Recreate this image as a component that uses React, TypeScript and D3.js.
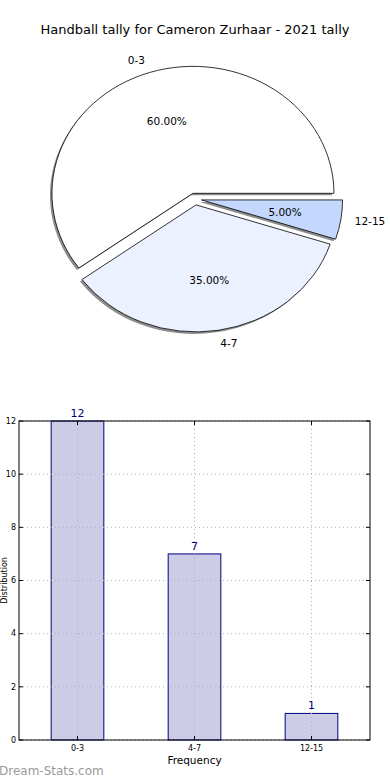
import React from 'react';
import * as d3 from 'd3';

const title = 'Handball tally for Cameron Zurhaar - 2021 tally';
const categories = ['0-3', '4-7', '12-15'];
const counts = [12, 7, 1];
const pieColors = ['#ffffff', '#ebf1fe', '#c4d8fd'];
const yTicks = [0, 2, 4, 6, 8, 10, 12];

const font = 'DejaVu Sans, sans-serif';

const PieChart: React.FC = () => {
  const cx = 195;
  const cy = 199;
  const rx = 141;
  const ry = 127;
  const explode = 0.047;

  const total = d3.sum(counts);
  const pie = d3
    .pie<number>()
    .sort(null)
    .startAngle(Math.PI / 2)
    .endAngle(Math.PI / 2 - 2 * Math.PI);
  const arcs = pie(counts);
  const arc = d3.arc<d3.PieArcDatum<number>>().innerRadius(0).outerRadius(1);

  return (
    <g>
      <text x={195} y={34} textAnchor="middle" fontSize={13} fontFamily={font}>
        {title}
      </text>
      {arcs.map((a, i) => {
        const mid = (a.startAngle + a.endAngle) / 2;
        const ox = cx + Math.sin(mid) * explode * rx;
        const oy = cy - Math.cos(mid) * explode * ry;
        // drop shadow, offset down-left
        return (
          <path
            key={'s' + i}
            d={arc(a) || ''}
            transform={`translate(${ox - 2},${oy + 2}) scale(${rx},${ry})`}
            fill="#000"
            fillOpacity={0.45}
            stroke="none"
          />
        );
      })}
      {arcs.map((a, i) => {
        const mid = (a.startAngle + a.endAngle) / 2;
        const dx = Math.sin(mid);
        const dy = -Math.cos(mid);
        const ox = cx + dx * explode * rx;
        const oy = cy + dy * explode * ry;
        const lx = ox + dx * 1.1 * rx;
        const ly = oy + dy * 1.1 * ry;
        const px = ox + dx * 0.6 * rx;
        const py = oy + dy * 0.6 * ry;
        const pct = ((counts[i] / total) * 100).toFixed(2) + '%';
        return (
          <g key={'w' + i}>
            <path
              d={arc(a) || ''}
              transform={`translate(${ox},${oy}) scale(${rx},${ry})`}
              fill={pieColors[i]}
              stroke="#000"
              strokeWidth={0.8}
              vectorEffect="non-scaling-stroke"
            />
            <text
              x={lx}
              y={ly}
              dy="0.35em"
              textAnchor={dx > 0 ? 'start' : 'end'}
              fontSize={10.5}
              fontFamily={font}
            >
              {categories[i]}
            </text>
            <text x={px} y={py} dy="0.35em" textAnchor="middle" fontSize={10.5} fontFamily={font}>
              {pct}
            </text>
          </g>
        );
      })}
    </g>
  );
};

const BarChart: React.FC = () => {
  const left = 19;
  const right = 370;
  const top = 421;
  const bottom = 740;

  const x = d3.scaleLinear().domain([-0.5, categories.length - 0.5]).range([left, right]);
  const y = d3.scaleLinear().domain([0, 12]).range([bottom, top]);
  const barW = x(0.45) - x(0);

  return (
    <g>
      {counts.map((v, i) => (
        <rect
          key={'b' + i}
          x={x(i) - barW / 2}
          y={y(v)}
          width={barW}
          height={y(0) - y(v)}
          fill="#cccce6"
          stroke="#000080"
          strokeWidth={1}
        />
      ))}
      {yTicks.map((t) => (
        <g key={'y' + t}>
          <line x1={left} x2={right} y1={y(t)} y2={y(t)} stroke="#b0b0b0" strokeDasharray="1,3" />
          <line x1={left} x2={left + 4} y1={y(t)} y2={y(t)} stroke="#000" />
          <line x1={right - 4} x2={right} y1={y(t)} y2={y(t)} stroke="#000" />
          <text x={left - 3} y={y(t)} dy="0.35em" textAnchor="end" fontSize={8} fontFamily={font}>
            {t}
          </text>
        </g>
      ))}
      {categories.map((c, i) => (
        <g key={'x' + i}>
          <line x1={x(i)} x2={x(i)} y1={top} y2={bottom} stroke="#b0b0b0" strokeDasharray="1,3" />
          <line x1={x(i)} x2={x(i)} y1={bottom} y2={bottom - 4} stroke="#000" />
          <line x1={x(i)} x2={x(i)} y1={top} y2={top + 4} stroke="#000" />
          <text x={x(i)} y={bottom + 11} textAnchor="middle" fontSize={8} fontFamily={font}>
            {c}
          </text>
        </g>
      ))}
      {counts.map((v, i) => (
        <text
          key={'l' + i}
          x={x(i)}
          y={y(v) - 4}
          textAnchor="middle"
          fontSize={11}
          fill="#000080"
          fontFamily={font}
        >
          {v}
        </text>
      ))}
      <rect x={left} y={top} width={right - left} height={bottom - top} fill="none" stroke="#000" strokeWidth={1} />
      <text x={(left + right) / 2} y={764} textAnchor="middle" fontSize={10.5} fontFamily={font}>
        Frequency
      </text>
      <text
        transform={`translate(7,${(top + bottom) / 2}) rotate(-90)`}
        textAnchor="middle"
        fontSize={8}
        fontFamily={font}
      >
        Distribution
      </text>
      <text x={-1} y={775} fontSize={12} fill="#9a9a9a" fontFamily={font}>
        Dream-Stats.com
      </text>
    </g>
  );
};

const App: React.FC = () => {
  return (
    <svg
      width={390}
      height={780}
      style={{ position: 'absolute', left: 0, top: 0, background: '#fff' }}
    >
      <PieChart />
      <BarChart />
    </svg>
  );
};

export default App;
